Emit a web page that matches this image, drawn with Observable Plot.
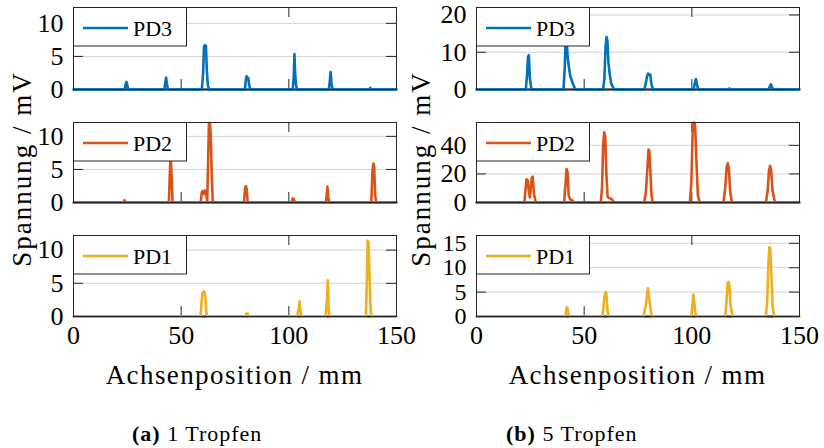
<!DOCTYPE html>
<html><head><meta charset="utf-8">
<script src="https://cdn.jsdelivr.net/npm/d3@7"></script>
<script src="https://cdn.jsdelivr.net/npm/@observablehq/plot@0.6"></script>
<style>
body{margin:0;background:#fff;}
#root{position:relative;width:824px;height:448px;overflow:hidden;background:#fff;font-family:"Liberation Serif","Times New Roman","DejaVu Serif",serif;}
#root > svg{position:absolute;}
#root text{font-family:"Liberation Serif","Times New Roman","DejaVu Serif",serif;}
</style></head>
<body><div id="root"></div>
<script>
// ---------- tick values ----------
const xTicks = [0, 50, 100, 150];
const yTicksA = [0, 5, 10];
const yTicksB3 = [0, 10, 20];
const yTicksB2 = [0, 20, 40];
const yTicksB1 = [0, 5, 10, 15];

// ---------- (a) 1 Tropfen ----------
const a_pd3_x = [0, 23.8, 24.2, 24.6, 25.0, 25.4, 42.2, 42.7, 43.0, 43.4, 43.9, 59.6, 60.2, 60.6, 61.0, 61.5, 61.9, 62.4, 63.0, 79.6, 80.1, 80.4, 80.8, 81.2, 81.6, 82.2, 101.8, 102.3, 102.6, 102.9, 103.3, 103.8, 118.6, 119.0, 119.4, 119.8, 120.3, 137.3, 137.8, 138.3, 150];
const a_pd3_y = [0, 0, 0.8, 1.15, 0.7, 0, 0, 1.2, 1.8, 0.8, 0, 0, 2.5, 6.5, 6.7, 6.6, 3.0, 0.6, 0, 0, 1.6, 2.0, 1.8, 1.7, 0.6, 0, 0, 2.0, 5.35, 2.6, 0.8, 0, 0, 1.2, 2.65, 1.0, 0, 0, 0.25, 0, 0];

const a_pd2_x = [0, 23.2, 23.7, 24.2, 44.3, 44.7, 45.1, 45.5, 46.0, 59.1, 59.6, 60.1, 60.6, 61.1, 61.6, 62.1, 62.5, 62.9, 63.4, 63.8, 64.2, 64.7, 79.2, 79.6, 80.0, 80.4, 80.9, 101.3, 101.8, 102.3, 102.8, 117.2, 117.6, 117.9, 118.3, 118.8, 138.3, 138.8, 139.2, 139.6, 140.1, 140.6, 150];
const a_pd2_y = [0, 0, 0.35, 0, 0, 4.0, 7.2, 4.5, 0, 0, 1.6, 1.75, 1.3, 1.8, 1.4, 0.1, 6.0, 12.0, 12.0, 9.6, 4.0, 0, 0, 2.0, 2.5, 2.1, 0, 0, 0.65, 0.5, 0, 0, 1.2, 2.4, 0.8, 0, 0, 4.5, 5.9, 5.6, 1.0, 0, 0];

const a_pd1_x = [0, 59.0, 59.5, 59.9, 60.3, 60.7, 61.2, 61.7, 62.1, 79.8, 80.3, 80.8, 81.3, 103.9, 104.3, 104.6, 105.0, 105.4, 105.9, 117.1, 117.5, 117.8, 118.1, 118.5, 119.0, 135.8, 136.2, 136.6, 137.0, 137.4, 137.8, 138.3, 150];
const a_pd1_y = [0, 0, 2.2, 3.6, 3.4, 3.8, 3.0, 0.5, 0, 0, 0.4, 0.45, 0, 0, 0.8, 1.2, 2.3, 0.8, 0, 0, 1.8, 3.0, 5.45, 1.0, 0, 0, 5.0, 11.4, 11.1, 7.1, 2.0, 0, 0];

// ---------- (b) 5 Tropfen ----------
const b_pd3_x = [0, 22.9, 23.5, 23.9, 24.3, 24.8, 25.5, 40.4, 41.0, 41.4, 41.8, 42.3, 42.9, 43.6, 44.5, 45.5, 46.1, 58.8, 59.4, 59.9, 60.4, 60.8, 61.3, 61.9, 62.6, 63.9, 77.9, 78.6, 79.2, 79.7, 80.2, 80.7, 81.2, 82.0, 100.8, 101.4, 101.9, 102.4, 103.1, 117.0, 117.5, 118.0, 135.5, 136.2, 136.7, 137.2, 137.8, 150];
const b_pd3_y = [0, 0, 4.0, 8.7, 9.2, 3.0, 0, 0, 6.0, 13.5, 13.8, 9.0, 6.0, 3.5, 2.0, 0.5, 0, 0, 3.0, 11.0, 14.1, 13.0, 7.0, 4.0, 1.5, 0, 0, 1.5, 3.6, 4.3, 3.9, 4.0, 1.5, 0, 0, 1.8, 2.8, 1.2, 0, 0, 0.3, 0, 0, 0.8, 1.4, 0.6, 0, 0];

const b_pd2_x = [0, 22.2, 22.7, 23.2, 23.8, 24.3, 24.8, 25.3, 25.7, 26.1, 26.7, 27.5, 40.7, 41.3, 41.8, 42.3, 42.8, 43.5, 44.5, 45.4, 57.7, 58.3, 58.8, 59.3, 59.8, 60.3, 60.9, 61.7, 62.8, 63.9, 77.9, 78.7, 79.4, 79.9, 80.3, 80.8, 81.3, 81.8, 99.1, 99.8, 100.4, 100.9, 101.5, 102.1, 102.8, 103.7, 114.7, 115.5, 116.2, 116.7, 117.2, 117.8, 118.6, 134.4, 135.2, 135.8, 136.3, 136.8, 137.5, 138.6, 150];
const b_pd2_y = [0, 0, 8.0, 16.2, 15.5, 8.0, 3.5, 12.0, 17.5, 18.1, 6.0, 0, 0, 12.0, 23.5, 21.0, 5.0, 2.2, 1.5, 0, 0, 10.0, 40.0, 49.2, 46.0, 20.0, 4.0, 3.0, 2.5, 0, 0, 8.0, 25.0, 37.0, 36.0, 20.0, 5.0, 0, 0, 15.0, 50.0, 56.0, 55.0, 30.0, 5.0, 0, 0, 10.0, 25.0, 27.5, 24.0, 8.0, 0, 0, 8.0, 22.0, 25.6, 23.0, 8.0, 0, 0];

const b_pd1_x = [0, 41.2, 41.6, 41.9, 42.3, 42.6, 43.0, 58.5, 59.0, 59.4, 59.9, 60.3, 60.8, 61.3, 77.6, 78.2, 78.8, 79.2, 79.6, 80.0, 80.5, 81.0, 81.5, 99.8, 100.3, 100.7, 101.1, 101.5, 102.2, 115.5, 116.1, 116.6, 117.0, 117.4, 117.9, 118.9, 134.4, 135.0, 135.5, 136.0, 136.4, 136.9, 137.5, 138.3, 150];
const b_pd1_y = [0, 0, 1.0, 1.9, 1.7, 0.7, 0, 0, 2.0, 4.0, 5.0, 4.7, 1.5, 0, 0, 1.5, 2.5, 4.5, 5.8, 4.5, 2.7, 1.0, 0, 0, 2.5, 4.5, 3.2, 1.0, 0, 0, 3.0, 6.8, 7.1, 6.5, 2.5, 0, 0, 3.0, 10.5, 14.2, 14.0, 9.0, 2.0, 0, 0];

// ---------- labels ----------
const seriesNames = ["PD3", "PD2", "PD1"];
const seriesColors = ["#0072BD", "#D95319", "#EDB120"];
const yLabel = "Spannung / mV";
const xLabel = "Achsenposition / mm";
const captions = [["(a)", " 1 Tropfen"], ["(b)", " 5 Tropfen"]];

// ---------- layout ----------
const root = document.getElementById("root");
const colLeft = [73, 476];
const frameW = 323;
const rows = [{top: 7, h: 82}, {top: 122, h: 80}, {top: 235, h: 81}];
const FONT = "'Liberation Serif', 'Times New Roman', 'DejaVu Serif', serif";
const INK = "#262626";

function panel(col, row, xs, ys, color, yDomain, yTicks, showX, tickFont = 26) {
  const mL = 52, mR = 24, mT = 4, mB = showX ? 40 : 4;
  const w = frameW, h = rows[row].h;
  const data = xs.map((x, i) => ({pos: x, val: ys[i]}));
  const inner = xTicks.filter(t => t > 0 && t < 150);
  const gy = yTicks.filter(t => t > 0);
  const marks = [
    Plot.ruleY(gy, {stroke: "#d2d2d2", strokeWidth: 1}),
    Plot.ruleY(gy, {stroke: INK, strokeWidth: 1, insetRight: w - 10}),
    Plot.ruleY(gy, {stroke: INK, strokeWidth: 1, insetLeft: w - 10}),
    Plot.ruleX(inner, {stroke: INK, strokeWidth: 1, insetTop: h - 10}),
    Plot.ruleX(inner, {stroke: INK, strokeWidth: 1, insetBottom: h - 10}),
    Plot.ruleY([0], {stroke: "#000", strokeWidth: 2}),
    Plot.line(data, {x: "pos", y: "val", stroke: color, strokeWidth: 2.6, strokeLinejoin: "round", strokeLinecap: "round"}),
    Plot.axisY(yTicks, {tickSize: 0, tickPadding: 10, label: null, fontSize: tickFont, fontFamily: FONT, fill: "#000"}),
    Plot.frame({stroke: INK, strokeWidth: 1})
  ];
  if (showX) marks.push(Plot.axisX(xTicks, {tickSize: 0, tickPadding: 9, label: null, fontSize: 26, fontFamily: FONT, fill: "#000"}));
  const svg = Plot.plot({
    width: w + mL + mR, height: h + mT + mB,
    marginLeft: mL, marginRight: mR, marginTop: mT, marginBottom: mB,
    style: {fontFamily: FONT, fontSize: "26px", background: "transparent", overflow: "visible"},
    x: {domain: [0, 150], axis: showX ? undefined : null, label: null},
    y: {domain: yDomain, label: null},
    marks
  });
  svg.style.left = (colLeft[col] - mL) + "px";
  svg.style.top = (rows[row].top - mT) + "px";
  root.appendChild(svg);
}

panel(0, 0, a_pd3_x, a_pd3_y, seriesColors[0], [0, 12.4], yTicksA, false);
panel(0, 1, a_pd2_x, a_pd2_y, seriesColors[1], [0, 12.1], yTicksA, false);
panel(0, 2, a_pd1_x, a_pd1_y, seriesColors[2], [0, 12.2], yTicksA, true);
panel(1, 0, b_pd3_x, b_pd3_y, seriesColors[0], [0, 22], yTicksB3, false);
panel(1, 1, b_pd2_x, b_pd2_y, seriesColors[1], [0, 56], yTicksB2, false);
panel(1, 2, b_pd1_x, b_pd1_y, seriesColors[2], [0, 16.6], yTicksB1, true, 24);

// ---------- overlay: legends, axis titles, captions ----------
const ns = "http://www.w3.org/2000/svg";
const ov = document.createElementNS(ns, "svg");
ov.setAttribute("width", 824); ov.setAttribute("height", 448);
ov.style.left = "0px"; ov.style.top = "0px";
ov.setAttribute("font-family", FONT);
root.appendChild(ov);
function el(tag, attrs, text) {
  const e = document.createElementNS(ns, tag);
  for (const k in attrs) e.setAttribute(k, attrs[k]);
  if (text != null) e.textContent = text;
  ov.appendChild(e);
  return e;
}
for (let c = 0; c < 2; c++) {
  for (let r = 0; r < 3; r++) {
    const x0 = colLeft[c], y0 = rows[r].top;
    el("rect", {x: x0 + 0.5, y: y0 + 0.5, width: 113, height: 38.5, fill: "#fff", stroke: INK, "stroke-width": 1});
    el("line", {x1: x0 + 10, x2: x0 + 55, y1: y0 + 21, y2: y0 + 21, stroke: seriesColors[r], "stroke-width": 2.6});
    el("text", {x: x0 + 60, y: y0 + 28.5, "font-size": 22, fill: "#000"}, seriesNames[r]);
  }
  // x title
  el("text", {x: colLeft[c] + frameW / 2, y: 384, "text-anchor": "middle", "font-size": 27, "letter-spacing": 1.4, fill: "#000"}, xLabel);
  // y title
  const yx = c === 0 ? 31 : 430;
  el("text", {transform: `translate(${yx},169) rotate(-90)`, "text-anchor": "middle", "font-size": 27, "letter-spacing": 2, fill: "#000"}, yLabel);
}
const capX = [132, 506];
captions.forEach((cap, i) => {
  const t = el("text", {x: capX[i], y: 441, "font-size": 22, "letter-spacing": 1, fill: "#000"});
  const b = document.createElementNS(ns, "tspan"); b.setAttribute("font-weight", "bold"); b.textContent = cap[0];
  const n = document.createElementNS(ns, "tspan"); n.textContent = cap[1];
  t.appendChild(b); t.appendChild(n);
});
</script>
</body></html>
